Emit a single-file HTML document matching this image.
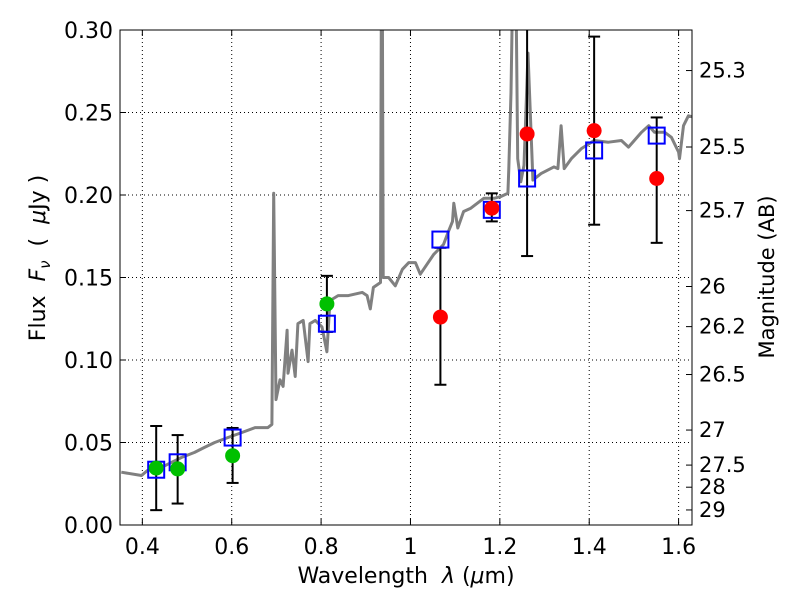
<!DOCTYPE html>
<html><head><meta charset="utf-8"><style>
body{margin:0;background:#fff;}
svg text{font-family:"DejaVu Sans","Liberation Sans",sans-serif;fill:#000;}
.pre{white-space:pre;}
</style></head><body>
<svg id="chart" width="800" height="600" xmlns="http://www.w3.org/2000/svg">
<defs><clipPath id="clip"><rect x="120" y="30" width="572" height="495"/></clipPath></defs>
<rect x="0" y="0" width="800" height="600" fill="#fff"/>
<g id="grid"></g>
<g id="spec" clip-path="url(#clip)"></g>
<g id="marks" clip-path="url(#clip)"></g>
<rect x="120" y="30" width="572" height="495" fill="none" stroke="#000" stroke-width="1"/>
<g id="axes"></g>
<text class="pre" x="406" y="583" font-size="22" text-anchor="middle">Wavelength  <tspan font-style="italic">λ</tspan> (<tspan font-style="italic">μ</tspan>m)</text>
<text class="pre" transform="translate(45,258) rotate(-90)" font-size="22" text-anchor="middle">Flux  <tspan font-style="italic">F</tspan><tspan font-style="italic" font-size="15" dy="5">ν</tspan><tspan dy="-5">  (  </tspan><tspan font-style="italic">μ</tspan>Jy )</text>
<text transform="translate(774,277) rotate(-90)" font-size="21" text-anchor="middle">Magnitude (AB)</text>
</svg>
<script>
const specX=[0.353,0.398,0.411,0.443,0.488,0.517,0.539,0.562,0.591,0.622,0.652,0.681,0.690,0.694,0.699,0.708,0.715,0.724,0.726,0.735,0.742,0.748,0.760,0.771,0.775,0.787,0.802,0.813,0.820,0.838,0.861,0.892,0.903,0.910,0.917,0.933,0.935,0.937,0.939,0.951,0.966,0.982,0.996,1.011,1.022,1.052,1.074,1.085,1.094,1.097,1.106,1.119,1.135,1.164,1.187,1.202,1.218,1.220,1.225,1.229,1.236,1.240,1.247,1.254,1.263,1.274,1.292,1.321,1.330,1.337,1.344,1.360,1.382,1.411,1.443,1.472,1.488,1.517,1.533,1.546,1.569,1.584,1.600,1.602,1.611,1.622,1.636];
const specY=[0.032,0.030,0.033,0.035,0.041,0.044,0.047,0.050,0.053,0.056,0.059,0.059,0.061,0.201,0.076,0.088,0.084,0.118,0.092,0.106,0.090,0.122,0.124,0.099,0.122,0.124,0.120,0.105,0.136,0.139,0.139,0.141,0.139,0.131,0.144,0.147,0.330,0.330,0.150,0.150,0.145,0.155,0.159,0.159,0.152,0.164,0.170,0.178,0.184,0.195,0.180,0.190,0.192,0.198,0.198,0.199,0.201,0.216,0.262,0.330,0.330,0.222,0.208,0.218,0.286,0.209,0.213,0.217,0.216,0.242,0.216,0.222,0.228,0.233,0.232,0.233,0.229,0.238,0.242,0.238,0.238,0.235,0.226,0.222,0.242,0.248,0.247];
const greenX=[0.431,0.479,0.602,0.813];
const greenY=[0.0345,0.034,0.042,0.134];
const greenLo=[0.009,0.013,0.0255,0.117];
const greenHi=[0.060,0.0545,0.0588,0.151];
const redX=[1.067,1.182,1.261,1.411,1.551];
const redY=[0.126,0.192,0.237,0.239,0.210];
const redLo=[0.085,0.184,0.163,0.182,0.171];
const redHi=[0.168,0.201,0.35,0.296,0.247];
const modelX=[0.431,0.479,0.602,0.813,1.067,1.182,1.261,1.411,1.551];
const modelY=[0.0335,0.038,0.053,0.122,0.173,0.191,0.210,0.227,0.236];
const xTicks=[0.4,0.6,0.8,1.0,1.2,1.4,1.6];
const xTickLabels=["0.4","0.6","0.8","1","1.2","1.4","1.6"];
const yTicks=[0,0.05,0.10,0.15,0.20,0.25,0.30];
const yTickLabels=["0.00","0.05","0.10","0.15","0.20","0.25","0.30"];
const magTicks=[25.3,25.5,25.7,26,26.2,26.5,27,27.5,28,29];
const magLabels=["25.3","25.5","25.7","26","26.2","26.5","27","27.5","28","29"];

const NS="http://www.w3.org/2000/svg";
const X0=120,X1=692,Y0=525,Y1=30,xmin=0.35,xmax=1.63,ymin=0,ymax=0.30;
const sx=v=>X0+(v-xmin)/(xmax-xmin)*(X1-X0);
const sy=v=>Y0-(v-ymin)/(ymax-ymin)*(Y0-Y1);
function mk(tag,attrs,parent){const e=document.createElementNS(NS,tag);for(const k in attrs)e.setAttribute(k,attrs[k]);document.getElementById(parent).appendChild(e);return e;}
xTicks.forEach((t,i)=>{const x=sx(t);
 let g=mk('line',{x1:x,x2:x,y1:Y1,y2:Y0,stroke:'#000','stroke-width':1,'stroke-dasharray':'1,3'},'grid');
 
 
 mk('line',{x1:x,x2:x,y1:Y0,y2:Y0-6,stroke:'#000'},'axes');
 mk('line',{x1:x,x2:x,y1:Y1,y2:Y1+6,stroke:'#000'},'axes');
 let l=mk('text',{x:x,y:554,'font-size':22,'text-anchor':'middle'},'axes');l.textContent=xTickLabels[i];
 
 
});
yTicks.forEach((t,i)=>{const y=sy(t);
 let g=mk('line',{x1:X0,x2:X1,y1:y,y2:y,stroke:'#000','stroke-width':1,'stroke-dasharray':'1,3'},'grid');
 
 
 mk('line',{x1:X0,x2:X0+6,y1:y,y2:y,stroke:'#000'},'axes');
 let l=mk('text',{x:113,y:y+8,'font-size':22,'text-anchor':'end'},'axes');l.textContent=yTickLabels[i];
 
 
});
magTicks.forEach((m,i)=>{const f=Math.pow(10,(23.9-m)/2.5);const y=sy(f);
 mk('line',{x1:X1,x2:X1-6,y1:y,y2:y,stroke:'#000'},'axes');
 let l=mk('text',{x:699,y:y+7,'font-size':21},'axes');l.textContent=magLabels[i];
 
 
});
let d=specX.map((v,i)=>(i?'L':'M')+sx(v).toFixed(1)+','+sy(specY[i]).toFixed(1)).join('');
let sp=mk('path',{d:d,fill:'none',stroke:'#808080','stroke-width':3,'stroke-linejoin':'round'},'spec');


function ebar(x,lo,hi){const px=sx(x);
 mk('line',{x1:px,x2:px,y1:sy(lo),y2:sy(hi),stroke:'#000','stroke-width':2},'marks');
 mk('line',{x1:px-6,x2:px+6,y1:sy(lo),y2:sy(lo),stroke:'#000','stroke-width':2},'marks');
 mk('line',{x1:px-6,x2:px+6,y1:sy(hi),y2:sy(hi),stroke:'#000','stroke-width':2},'marks');}
greenX.forEach((x,i)=>ebar(x,greenLo[i],greenHi[i]));
redX.forEach((x,i)=>ebar(x,redLo[i],redHi[i]));
modelX.forEach((x,i)=>{let r=mk('rect',{x:sx(x)-8,y:sy(modelY[i])-8,width:16,height:16,fill:'none',stroke:'#0000ff','stroke-width':2},'marks');
 
 });
greenX.forEach((x,i)=>{let c=mk('circle',{cx:sx(x),cy:sy(greenY[i]),r:7.5,fill:'#00c000'},'marks');
 
 });
redX.forEach((x,i)=>{let c=mk('circle',{cx:sx(x),cy:sy(redY[i]),r:7.5,fill:'#ff0000'},'marks');
 
 });
</script>
</body></html>
